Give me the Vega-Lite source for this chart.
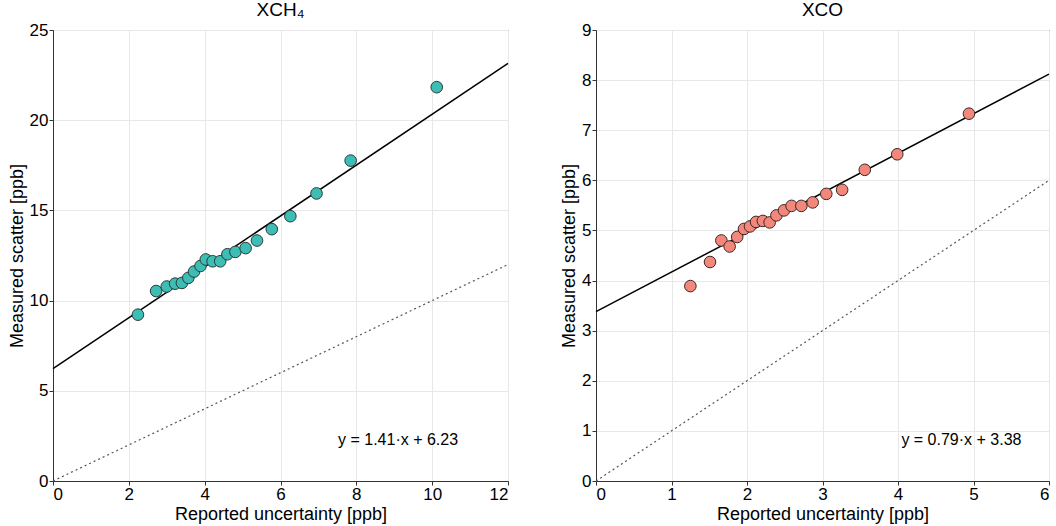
{
  "$schema": "https://vega.github.io/schema/vega-lite/v6.json",
  "padding": {"left": 7, "top": 0, "right": 2, "bottom": 0},
  "spacing": 48,
  "config": {
    "font": "Liberation Sans",
    "view": {"stroke": "#333", "strokeWidth": 1},
    "axis": {
      "domainColor": "#333",
      "tickColor": "#333",
      "tickSize": 4,
      "labelColor": "#000",
      "labelFontSize": 17,
      "titleColor": "#000",
      "titleFontSize": 18,
      "titleFontWeight": "normal",
      "titlePadding": 3,
      "gridColor": "#e8e8e8",
      "gridWidth": 1,
      "labelPadding": 1
    },
    "title": {"fontSize": 19, "fontWeight": "normal", "color": "#000", "offset": 1}
  },
  "datasets": {
    "ch4": [
      {"x": 2.24, "y": 9.22}, {"x": 2.72, "y": 10.53}, {"x": 3.0, "y": 10.78}, {"x": 3.22, "y": 10.94},
      {"x": 3.4, "y": 10.98}, {"x": 3.57, "y": 11.26}, {"x": 3.72, "y": 11.61}, {"x": 3.89, "y": 11.92},
      {"x": 4.03, "y": 12.28}, {"x": 4.21, "y": 12.18}, {"x": 4.41, "y": 12.18}, {"x": 4.6, "y": 12.57},
      {"x": 4.81, "y": 12.7}, {"x": 5.08, "y": 12.91}, {"x": 5.38, "y": 13.33}, {"x": 5.77, "y": 13.96},
      {"x": 6.26, "y": 14.68}, {"x": 6.95, "y": 15.94}, {"x": 7.85, "y": 17.76}, {"x": 10.12, "y": 21.83}
    ],
    "co": [
      {"x": 1.25, "y": 3.89}, {"x": 1.51, "y": 4.37}, {"x": 1.66, "y": 4.8}, {"x": 1.77, "y": 4.68},
      {"x": 1.87, "y": 4.87}, {"x": 1.96, "y": 5.03}, {"x": 2.04, "y": 5.08}, {"x": 2.12, "y": 5.17},
      {"x": 2.21, "y": 5.19}, {"x": 2.3, "y": 5.16}, {"x": 2.39, "y": 5.3}, {"x": 2.49, "y": 5.4},
      {"x": 2.59, "y": 5.49}, {"x": 2.72, "y": 5.49}, {"x": 2.87, "y": 5.56}, {"x": 3.05, "y": 5.73},
      {"x": 3.26, "y": 5.81}, {"x": 3.56, "y": 6.21}, {"x": 3.99, "y": 6.52}, {"x": 4.94, "y": 7.33}
    ],
    "ch4fit": [{"x": 0, "y": 6.23}, {"x": 12, "y": 23.15}],
    "ch4one": [{"x": 0, "y": 0}, {"x": 12, "y": 12}],
    "cofit": [{"x": 0, "y": 3.38}, {"x": 6, "y": 8.12}],
    "coone": [{"x": 0, "y": 0}, {"x": 6, "y": 6}],
    "ch4lab": [{"x": 9.1, "y": 2.3, "t": "y = 1.41·x + 6.23"}],
    "colab": [{"x": 4.84, "y": 0.82, "t": "y = 0.79·x + 3.38"}]
  },
  "hconcat": [
    {
      "title": "XCH₄",
      "width": 455,
      "height": 451,
      "layer": [
        {
          "data": {"name": "ch4one"},
          "mark": {"type": "line", "color": "#555", "strokeDash": [2, 3], "strokeWidth": 1.2},
          "encoding": {
            "x": {"field": "x", "type": "quantitative", "scale": {"domain": [0, 12], "nice": false},
              "axis": {"title": "Reported uncertainty [ppb]", "values": [0, 2, 4, 6, 8, 10, 12], "format": "d"}},
            "y": {"field": "y", "type": "quantitative", "scale": {"domain": [0, 25], "nice": false},
              "axis": {"title": "Measured scatter [ppb]", "values": [0, 5, 10, 15, 20, 25], "format": "d"}}
          }
        },
        {
          "data": {"name": "ch4fit"},
          "mark": {"type": "line", "color": "#000", "strokeWidth": 1.5},
          "encoding": {
            "x": {"field": "x", "type": "quantitative"},
            "y": {"field": "y", "type": "quantitative"}
          }
        },
        {
          "data": {"name": "ch4"},
          "mark": {"type": "point", "filled": true, "fill": "#3dbdb3", "stroke": "#2a3a38", "strokeWidth": 1, "size": 135, "opacity": 1, "fillOpacity": 1},
          "encoding": {
            "x": {"field": "x", "type": "quantitative"},
            "y": {"field": "y", "type": "quantitative"}
          }
        },
        {
          "data": {"name": "ch4lab"},
          "mark": {"type": "text", "fontSize": 16, "color": "#000"},
          "encoding": {
            "x": {"field": "x", "type": "quantitative"},
            "y": {"field": "y", "type": "quantitative"},
            "text": {"field": "t"}
          }
        }
      ]
    },
    {
      "title": "XCO",
      "width": 453,
      "height": 451,
      "layer": [
        {
          "data": {"name": "coone"},
          "mark": {"type": "line", "color": "#555", "strokeDash": [2, 3], "strokeWidth": 1.2},
          "encoding": {
            "x": {"field": "x", "type": "quantitative", "scale": {"domain": [0, 6], "nice": false},
              "axis": {"title": "Reported uncertainty [ppb]", "values": [0, 1, 2, 3, 4, 5, 6], "format": "d"}},
            "y": {"field": "y", "type": "quantitative", "scale": {"domain": [0, 9], "nice": false},
              "axis": {"title": "Measured scatter [ppb]", "values": [0, 1, 2, 3, 4, 5, 6, 7, 8, 9], "format": "d"}}
          }
        },
        {
          "data": {"name": "cofit"},
          "mark": {"type": "line", "color": "#000", "strokeWidth": 1.5},
          "encoding": {
            "x": {"field": "x", "type": "quantitative"},
            "y": {"field": "y", "type": "quantitative"}
          }
        },
        {
          "data": {"name": "co"},
          "mark": {"type": "point", "filled": true, "fill": "#f4877b", "stroke": "#3a2a28", "strokeWidth": 1, "size": 135, "opacity": 1, "fillOpacity": 1},
          "encoding": {
            "x": {"field": "x", "type": "quantitative"},
            "y": {"field": "y", "type": "quantitative"}
          }
        },
        {
          "data": {"name": "colab"},
          "mark": {"type": "text", "fontSize": 16, "color": "#000"},
          "encoding": {
            "x": {"field": "x", "type": "quantitative"},
            "y": {"field": "y", "type": "quantitative"},
            "text": {"field": "t"}
          }
        }
      ]
    }
  ]
}
